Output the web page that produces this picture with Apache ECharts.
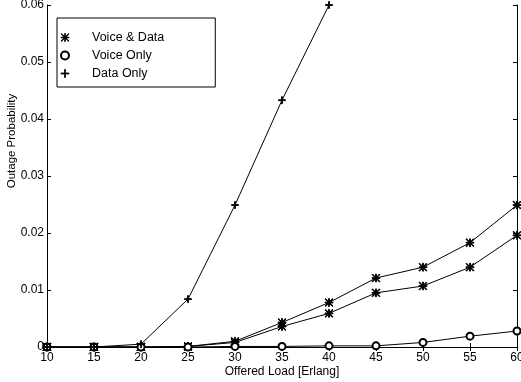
<!DOCTYPE html>
<html><head><meta charset="utf-8">
<script src="https://cdn.jsdelivr.net/npm/echarts@6/dist/echarts.min.js"></script>
<style>html,body{margin:0;padding:0;background:#fff}#c{width:521px;height:382px}</style>
</head><body><div id="c"></div>
<script>
var loads = [10, 15, 20, 25, 30, 35, 40, 45, 50, 55, 60];
var voiceDataUpper = [0, 0, 0, 0.0001, 0.001, 0.0043, 0.0078, 0.0121, 0.0140, 0.0183, 0.0249];
var voiceDataLower = [0, 0, 0, 0.0001, 0.0008, 0.0036, 0.0059, 0.0095, 0.0107, 0.0140, 0.0196];
var voiceOnly = [0, 0, 0, 0, 0.0001, 0.0001, 0.0002, 0.0002, 0.0008, 0.0019, 0.0028];
var dataLoads = [10, 15, 20, 25, 30, 35, 40];
var dataOnly = [0, 0, 0.0005, 0.0084, 0.0249, 0.0433, 0.0600];
var xTicks = [10, 15, 20, 25, 30, 35, 40, 45, 50, 55, 60];
var yTicks = [0, 0.01, 0.02, 0.03, 0.04, 0.05, 0.06];

var ast = 'path://M4.5 0H5.5V10H4.5Z M0 4.5H10V5.5H0Z M0.7 0L10 9.3L9.3 10L0 0.7Z M9.3 0L10 0.7L0.7 10L0 9.3Z';
var plus = 'path://M4.4 0H5.6V4.4H10V5.6H5.6V10H4.4V5.6H0V4.4H4.4Z';
function pairs(xs, ys){ return xs.map(function(x,i){return [x, ys[i]];}); }
var font = 'Liberation Sans';
function S(name, data, symbol, size){
  return {type:'line', name:name, data:data, symbol:symbol, symbolSize:size, showAllSymbol:true,
    lineStyle:{color:'#000', width:1}, itemStyle:{color:'#000', borderColor:'#000', borderWidth:1}, animation:false, clip:true};
}
var chart = echarts.init(document.getElementById('c'));
var axisCommon = {axisLine:{show:true, lineStyle:{color:'#000', width:1}}, axisTick:{show:true, inside:true, length:4, lineStyle:{color:'#000'}}, splitLine:{show:false}};
chart.setOption({
  animation:false,
  grid:{left:47, right:4, top:5, bottom:35, containLabel:false, outerBoundsMode:'none'},
  legend:{orient:'vertical', left:57, top:18, padding:[13,51,7,3], itemGap:5, itemWidth:8, itemHeight:8,
    borderColor:'#000', borderWidth:1, backgroundColor:'#fff',
    itemStyle:{borderWidth:0.8},
    textStyle:{fontFamily:font, fontSize:12.5, color:'#000', padding:[0,0,0,18]},
    data:[{name:'Voice & Data', icon:ast},{name:'Voice Only', icon:'emptyCircle'},{name:'Data Only', icon:plus}]},
  xAxis:[
    Object.assign({type:'value', min:10, max:60, interval:5, name:'Offered Load [Erlang]', nameLocation:'middle', nameGap:19, nameMoveOverlap:false,
      nameTextStyle:{fontFamily:font, fontSize:12, color:'#000'},
      axisLabel:{fontFamily:font, fontSize:12, color:'#000', margin:5, showMaxLabel:true}}, axisCommon),
    Object.assign({type:'value', min:10, max:60, interval:5, position:'top', axisLabel:{show:false}}, axisCommon)
  ],
  yAxis:[
    Object.assign({type:'value', min:0, max:0.06, interval:0.01, name:'Outage Probability', nameLocation:'middle', nameGap:29, nameMoveOverlap:false,
      nameTextStyle:{fontFamily:font, fontSize:11.5, color:'#000', padding:[0,0,0,70]},
      axisLabel:{fontFamily:font, fontSize:12, color:'#000', margin:3, formatter:function(v){return v===0?'0':v.toFixed(2);}}}, axisCommon),
    Object.assign({type:'value', min:0, max:0.06, interval:0.01, position:'right', axisLabel:{show:false}}, axisCommon)
  ],
  series:[
    S('Voice & Data', pairs(loads, voiceDataUpper), ast, 8),
    S('Voice & Data', pairs(loads, voiceDataLower), ast, 8),
    S('Voice Only', pairs(loads, voiceOnly), 'emptyCircle', 7),
    S('Data Only', pairs(dataLoads, dataOnly), plus, 7)
  ]
});
</script></body></html>
